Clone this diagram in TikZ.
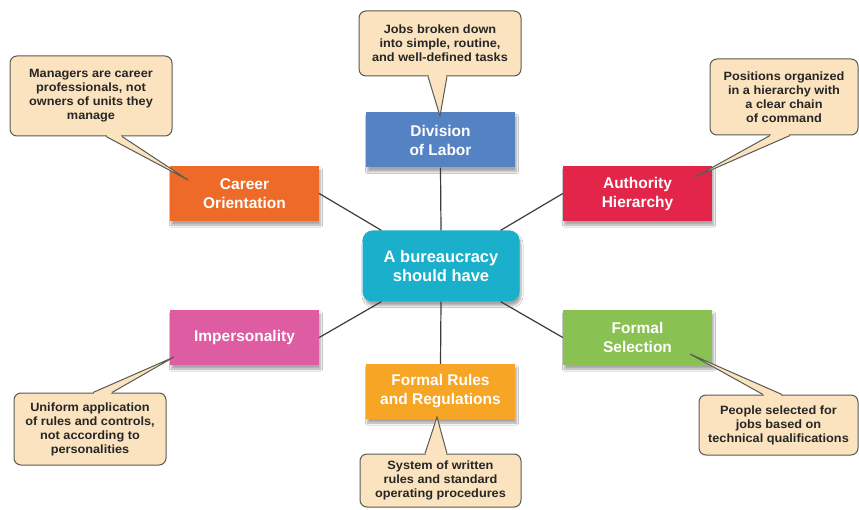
\documentclass[tikz,border=0pt]{standalone}
\usepackage{fontspec}
\setmainfont{Liberation Sans}
\newfontfamily\callfont[FakeStretch=1.06]{Liberation Sans}
\usetikzlibrary{shadows.blur,calc}
\definecolor{divc}{HTML}{5482C2}
\definecolor{carc}{HTML}{EE6A28}
\definecolor{authc}{HTML}{E4254A}
\definecolor{cenc}{HTML}{1AAFCA}
\definecolor{impc}{HTML}{DE5CA1}
\definecolor{selc}{HTML}{8AC153}
\definecolor{rulc}{HTML}{F6A525}
\definecolor{callfill}{HTML}{FAE3BE}
\definecolor{callborder}{HTML}{5A5A55}
\definecolor{linec}{HTML}{3C3C3C}
\newcommand\calloutptr[3]{%
  \fill[callfill] (#1) -- (#2) -- (#3) -- cycle;
  \draw[callfill, line width=2.2pt, shorten <=0.9pt, shorten >=0.9pt] (#1) -- (#3);
  \draw[callborder, line width=1pt, line join=miter] (#1) -- (#2) -- (#3);
}
\tikzset{
  box/.style={fill=#1, text=white, font=\fontsize{15.5}{19}\selectfont\bfseries,
    align=center, minimum width=149pt, minimum height=55pt, inner sep=0pt,
    blur shadow={shadow xshift=1.5pt, shadow yshift=-4pt, shadow opacity=35, shadow blur steps=6}},
  callout/.style={fill=callfill, draw=callborder, line width=1pt, rounded corners=7pt,
    font=\callfont\fontsize{12}{14}\selectfont\bfseries, text=black!85,
    align=center, inner sep=0pt},
  link/.style={draw=linec, line width=1.2pt},
}
\begin{document}
\begin{tikzpicture}[x=1pt,y=-1pt]
\useasboundingbox[fill=white] (0,0) rectangle (859,510);

% main boxes
\node[box=divc] (div) at (440.5,140) {Division\\of Labor};
\node[box=carc] (car) at (244.5,193.5) {Career\\Orientation};
\node[box=authc] (auth) at (637.5,193.5) {Authority\\Hierarchy};
\node[box=impc] (imp) at (244.5,337.5) {Impersonality};
\node[box=selc] (sel) at (637.5,337.5) {Formal\\Selection};
\node[box=rulc] (rul) at (440.5,391.5) {Formal Rules\\and Regulations};
\node[box=cenc, rounded corners=10pt, minimum width=157pt, minimum height=71pt,
      font=\fontsize{16.5}{19.5}\selectfont\bfseries] (cen) at (441,266) {A bureaucracy\\should have};

% connectors
\draw[link] (div.south) -- (cen.north);
\draw[link] (rul.north) -- (cen.south);
\draw[link] (car.east) -- ([xshift=19pt]cen.north west);
\draw[link] (auth.west) -- ([xshift=-19pt]cen.north east);
\draw[link] (imp.east) -- ([xshift=19pt]cen.south west);
\draw[link] (sel.west) -- ([xshift=-19pt]cen.south east);

% callouts
\node[callout, minimum width=162pt, minimum height=65pt] (c1) at (440,43.5)
  {Jobs broken down\\into simple, routine,\\and well-defined tasks};
\coordinate (t1) at (440,116);
\calloutptr{[xshift=-12pt]c1.south}{t1}{[xshift=7pt]c1.south}

\node[callout, minimum width=162pt, minimum height=80pt] (c2) at (91,96)
  {Managers are career\\professionals, not\\owners of units they\\manage};
\coordinate (t2) at (188,180);
\calloutptr{[xshift=15pt]c2.south}{t2}{[xshift=31pt]c2.south}

\node[callout, minimum width=148pt, minimum height=76pt] (c3) at (784,97)
  {Positions organized\\in a hierarchy with\\a clear chain\\of command};
\coordinate (t3) at (695,177);
\calloutptr{[xshift=-14pt]c3.south}{t3}{[xshift=6pt]c3.south}

\node[callout, minimum width=152pt, minimum height=72pt] (c4) at (90,429)
  {Uniform application\\of rules and controls,\\not according to\\personalities};
\coordinate (t4) at (174,357);
\calloutptr{[xshift=3pt]c4.north}{t4}{[xshift=22pt]c4.north}

\node[callout, minimum width=161pt, minimum height=53pt] (c5) at (440.5,480.5)
  {System of written\\rules and standard\\operating procedures};
\coordinate (t5) at (437,417);
\calloutptr{[xshift=-15.5pt]c5.north}{t5}{[xshift=6.5pt]c5.north}

\node[callout, minimum width=159pt, minimum height=60pt] (c6) at (778.5,425)
  {People selected for\\jobs based on\\technical qualifications};
\coordinate (t6) at (690,354);
\calloutptr{[xshift=-15.5pt]c6.north}{t6}{[xshift=3.5pt]c6.north}
\end{tikzpicture}
\end{document}
